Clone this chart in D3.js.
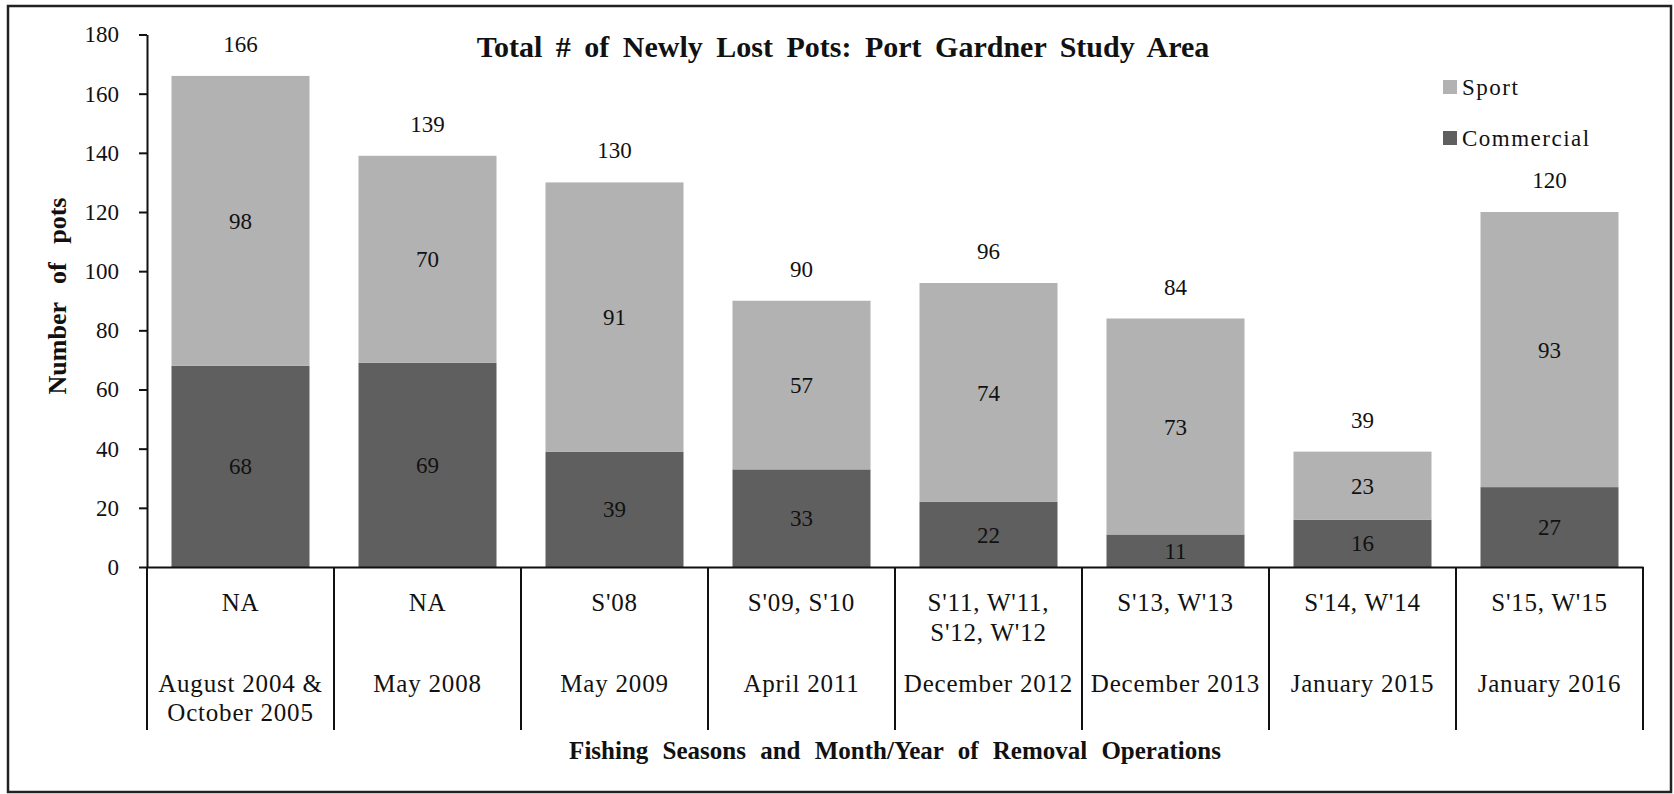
<!DOCTYPE html>
<html>
<head>
<meta charset="utf-8">
<script src="https://cdn.jsdelivr.net/npm/d3@7"></script>
<style>
  body { margin: 0; background: #fff; }
  text { font-family: "Liberation Serif", "Times New Roman", serif; fill: #111; }
</style>
</head>
<body>
<svg id="chart"></svg>
<script>
// Data
const seasonLabels = [
    ["NA"], ["NA"], ["S'08"], ["S'09, S'10"],
    ["S'11, W'11,", "S'12, W'12"], ["S'13, W'13"], ["S'14, W'14"], ["S'15, W'15"]
];
const monthLabels = [
    ["August 2004 &", "October 2005"], ["May 2008"], ["May 2009"], ["April 2011"],
    ["December 2012"], ["December 2013"], ["January 2015"], ["January 2016"]
];
const commercial = [68, 69, 39, 33, 22, 11, 16, 27];
const sport = [98, 70, 91, 57, 74, 73, 23, 93];
const yTicks = [0, 20, 40, 60, 80, 100, 120, 140, 160, 180];
const seriesNames = ["Commercial", "Sport"];
const seriesColors = ["#5f5f5f", "#b2b2b2"];

// Configuration
const width = 1674;
const height = 794;
const plot = { left: 147, right: 1643, top: 34.5, bottom: 567 };
const tableBottom = 730;

const svg = d3.select("#chart")
    .attr("width", width)
    .attr("height", height);

// outer frame
svg.append("rect")
    .attr("x", 8).attr("y", 6)
    .attr("width", 1663).attr("height", 786)
    .attr("fill", "none")
    .attr("stroke", "#222")
    .attr("stroke-width", 2.5);

const rows = commercial.map((c, i) => ({ idx: i, Commercial: c, Sport: sport[i] }));
const stacked = d3.stack().keys(seriesNames)(rows);

const x = d3.scaleBand()
    .domain(d3.range(rows.length))
    .range([plot.left, plot.right])
    .paddingInner(0.262)
    .paddingOuter(0.131);

const y = d3.scaleLinear()
    .domain([0, 180])
    .range([plot.bottom, plot.top]);

const color = d3.scaleOrdinal().domain(seriesNames).range(seriesColors);

// bars
const layer = svg.append("g").selectAll("g")
    .data(stacked)
    .join("g")
    .attr("fill", d => color(d.key));

layer.selectAll("rect")
    .data(d => d)
    .join("rect")
    .attr("x", d => x(d.data.idx))
    .attr("width", x.bandwidth())
    .attr("y", d => y(d[1]))
    .attr("height", d => y(d[0]) - y(d[1]));

// segment labels
layer.selectAll("text")
    .data(d => d)
    .join("text")
    .attr("x", d => x(d.data.idx) + x.bandwidth() / 2)
    .attr("y", d => y((d[0] + d[1]) / 2))
    .attr("dy", "0.35em")
    .attr("text-anchor", "middle")
    .attr("font-size", 23)
    .text(d => d[1] - d[0]);

// totals
svg.append("g").selectAll("text")
    .data(rows)
    .join("text")
    .attr("x", d => x(d.idx) + x.bandwidth() / 2)
    .attr("y", d => y(d.Commercial + d.Sport) - 32)
    .attr("dy", "0.35em")
    .attr("text-anchor", "middle")
    .attr("font-size", 23)
    .text(d => d.Commercial + d.Sport);

// y axis
const yAxis = svg.append("g")
    .attr("transform", `translate(${plot.left},0)`)
    .call(d3.axisLeft(y).tickValues(yTicks).tickSize(8).tickSizeOuter(0).tickPadding(20));
yAxis.selectAll("path, line").attr("stroke", "#111").attr("stroke-width", 2);
yAxis.selectAll("text")
    .attr("font-family", "Liberation Serif, Times New Roman, serif")
    .attr("font-size", 23)
    .attr("fill", "#111");

// x axis line (table top)
const xAxis = svg.append("g")
    .attr("transform", `translate(0,${plot.bottom})`)
    .call(d3.axisBottom(x).tickSize(0).tickSizeOuter(0).tickFormat(""));
xAxis.select("path").attr("stroke", "#111").attr("stroke-width", 2);

// table dividers
const gap = (x.step() - x.bandwidth()) / 2;
const dividers = rows.map(d => x(d.idx) - gap).concat([plot.right]);
svg.append("g").selectAll("line")
    .data(dividers)
    .join("line")
    .attr("x1", d => d).attr("x2", d => d)
    .attr("y1", plot.bottom).attr("y2", tableBottom)
    .attr("stroke", "#111")
    .attr("stroke-width", 2);

// category labels
function multiline(lines, yStart, lineHeight) {
    svg.append("g").selectAll("text")
        .data(lines)
        .join("text")
        .attr("x", (d, i) => x(i) + x.bandwidth() / 2)
        .attr("y", yStart)
        .attr("text-anchor", "middle")
        .attr("font-size", 25)
        .attr("letter-spacing", 0.8)
        .selectAll("tspan")
        .data(d => d)
        .join("tspan")
        .attr("x", function () { return this.parentNode.getAttribute("x"); })
        .attr("dy", (d, j) => j === 0 ? "0.35em" : lineHeight)
        .text(d => d);
}
multiline(seasonLabels, 602, 30);
multiline(monthLabels, 683, 29);

// titles
svg.append("text")
    .attr("x", 843).attr("y", 46.5)
    .attr("dy", "0.35em")
    .attr("text-anchor", "middle")
    .attr("font-size", 30)
    .attr("font-weight", "bold")
    .attr("word-spacing", 6)
    .text("Total # of Newly Lost Pots: Port Gardner Study Area");

svg.append("text")
    .attr("x", 895).attr("y", 750)
    .attr("dy", "0.35em")
    .attr("text-anchor", "middle")
    .attr("font-size", 25)
    .attr("font-weight", "bold")
    .attr("word-spacing", 8)
    .text("Fishing Seasons and Month/Year of Removal Operations");

svg.append("text")
    .attr("transform", "translate(57,296) rotate(-90)")
    .attr("dy", "0.35em")
    .attr("text-anchor", "middle")
    .attr("font-size", 26)
    .attr("font-weight", "bold")
    .attr("word-spacing", 12)
    .text("Number of pots");

// legend (Sport on top)
const legend = svg.append("g").selectAll("g")
    .data(seriesNames.slice().reverse())
    .join("g")
    .attr("transform", (d, i) => `translate(1443,${87 + i * 51})`);
legend.append("rect")
    .attr("x", 0).attr("y", -7)
    .attr("width", 14).attr("height", 14)
    .attr("fill", d => color(d));
legend.append("text")
    .attr("x", 19).attr("dy", "0.35em")
    .attr("font-size", 23)
    .attr("letter-spacing", 1.5)
    .text(d => d);
</script>
</body>
</html>
